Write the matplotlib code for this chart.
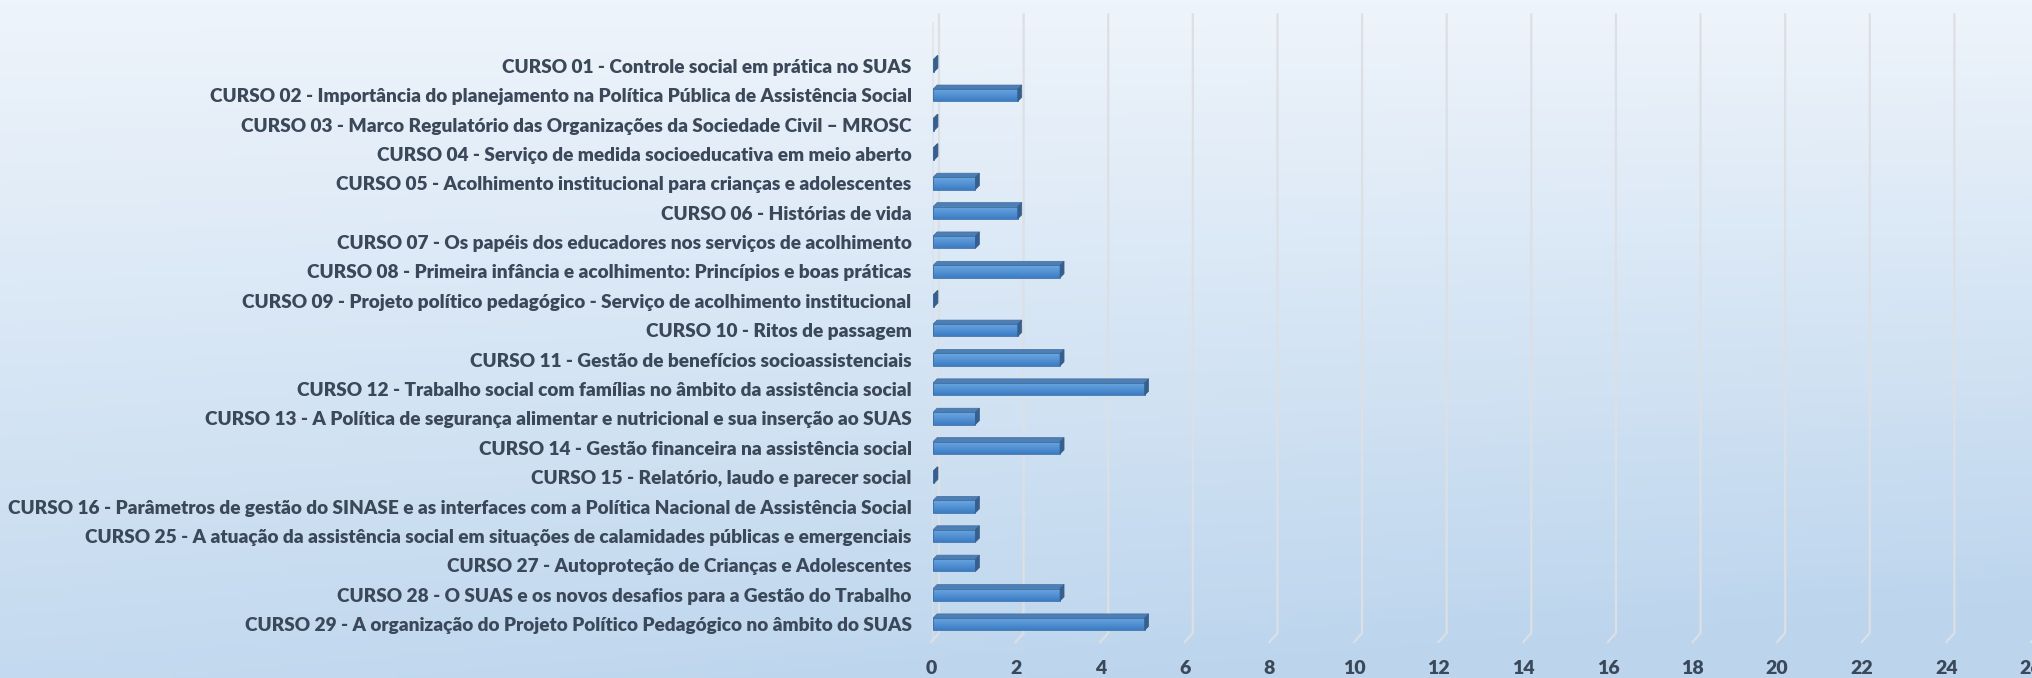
import matplotlib.pyplot as plt
import matplotlib.colors as mcolors
from matplotlib.patches import Polygon, Rectangle
import numpy as np

plt.rcParams['font.family'] = ['Lato', 'DejaVu Sans']

# dados: numero de inscritos por curso
cursos = [
    'CURSO 01 - Controle social em prática no SUAS',
    'CURSO 02 - Importância do planejamento na Política Pública de Assistência Social',
    'CURSO 03 - Marco Regulatório das Organizações da Sociedade Civil – MROSC',
    'CURSO 04 - Serviço de medida socioeducativa em meio aberto',
    'CURSO 05 - Acolhimento institucional para crianças e adolescentes',
    'CURSO 06 - Histórias de vida',
    'CURSO 07 - Os papéis dos educadores nos serviços de acolhimento',
    'CURSO 08 - Primeira infância e acolhimento: Princípios e boas práticas',
    'CURSO 09 - Projeto político pedagógico - Serviço de acolhimento institucional',
    'CURSO 10 - Ritos de passagem',
    'CURSO 11 - Gestão de benefícios socioassistenciais',
    'CURSO 12 - Trabalho social com famílias no âmbito da assistência social',
    'CURSO 13 - A Política de segurança alimentar e nutricional e sua inserção ao SUAS',
    'CURSO 14 - Gestão financeira na assistência social',
    'CURSO 15 - Relatório, laudo e parecer social',
    'CURSO 16 - Parâmetros de gestão do SINASE e as interfaces com a Política Nacional de Assistência Social',
    'CURSO 25 - A atuação da assistência social em situações de calamidades públicas e emergenciais',
    'CURSO 27 - Autoproteção de Crianças e Adolescentes',
    'CURSO 28 - O SUAS e os novos desafios para a Gestão do Trabalho',
    'CURSO 29 - A organização do Projeto Político Pedagógico no âmbito do SUAS',
]
valores = [0, 2, 0, 0, 1, 2, 1, 3, 0, 2, 3, 5, 1, 3, 0, 1, 1, 1, 3, 5]
x_ticks = list(range(0, 27, 2))

texto_cor = '#3b4859'
grade_cor = '#dcdfe4'

fig = plt.figure(figsize=(20.33, 6.78), dpi=100)

# fundo em degrade
bg = fig.add_axes([0, 0, 1, 1], zorder=-10)
yy, xx = np.mgrid[0:1:200j, 0:1:200j]
t = np.clip(0.85 * yy + 0.25 * xx * yy, 0, 1)
cmap_bg = mcolors.LinearSegmentedColormap.from_list('bg', ['#eef4fb', '#bcd5ed'])
bg.imshow(t, cmap=cmap_bg, aspect='auto', extent=[0, 1, 0, 1], origin='upper')
bg.axis('off')

ax = fig.add_axes([931 / 2033, 36 / 678, 1100 / 2033, 632 / 678])
ax.set_facecolor('none')
for s in ax.spines.values():
    s.set_visible(False)

n = len(cursos)
y = np.arange(n)

# profundidade 3D (px -> unidades)
px_x = 1100 / 26
px_y = 632 / 21.51
dx, dy = 4 / px_x, 4 / px_y
gx, gy = 8 / px_x, 9 / px_y
h = 0.42

# grade (parede do fundo + piso)
ytop, ybot = -1.75, n - 1 + 0.61
for xt in x_ticks:
    ax.plot([xt + gx, xt + gx, xt], [ytop, ybot - gy, ybot], color=grade_cor, lw=1.6, zorder=1,
            clip_on=False)
ax.plot([0.05, 0.05], [ytop + gy, ybot], color=grade_cor, lw=1.2, zorder=1, alpha=0.7)

# barras com efeito 3D
cmap_bar = mcolors.LinearSegmentedColormap.from_list('bar', ['#6ca8e2', '#3c7cc4'])
grad = np.linspace(0, 1, 50).reshape(-1, 1)
for yi, v in zip(y, valores):
    top = yi - h / 2
    bot = yi + h / 2
    x0 = 0.05
    w = max(v, 0.02)
    front = Rectangle((x0, top), w, h, facecolor='none', edgecolor='#3a6ea8', lw=0.6, zorder=4)
    ax.add_patch(front)
    im = ax.imshow(grad, cmap=cmap_bar, aspect='auto', extent=[x0, x0 + w, bot, top], zorder=3)
    im.set_clip_path(front)
    topo = Polygon([(x0, top), (x0 + w, top), (x0 + w + dx, top - dy), (x0 + dx, top - dy)],
                   facecolor='#4d7fb6', edgecolor='#41709f', lw=0.5, zorder=4)
    lado = Polygon([(x0 + w, top), (x0 + w + dx, top - dy), (x0 + w + dx, bot - dy), (x0 + w, bot)],
                   facecolor='#365f8e', edgecolor='#365f8e', lw=0.5, zorder=4)
    ax.add_patch(topo)
    ax.add_patch(lado)

ax.set_xlim(0, 26)
ax.set_ylim(n - 1 + 0.61, -1.9)

ax.set_yticks(y)
ax.set_yticklabels(cursos, fontsize=13.7, fontweight='heavy', color=texto_cor)
ax.set_xticks(x_ticks)
ax.set_xticklabels([str(v) for v in x_ticks], fontsize=14, fontweight='heavy', color=texto_cor)
ax.tick_params(axis='y', length=0, pad=14)
ax.tick_params(axis='x', length=0, pad=13)

fig.savefig('out.png', dpi=100)
